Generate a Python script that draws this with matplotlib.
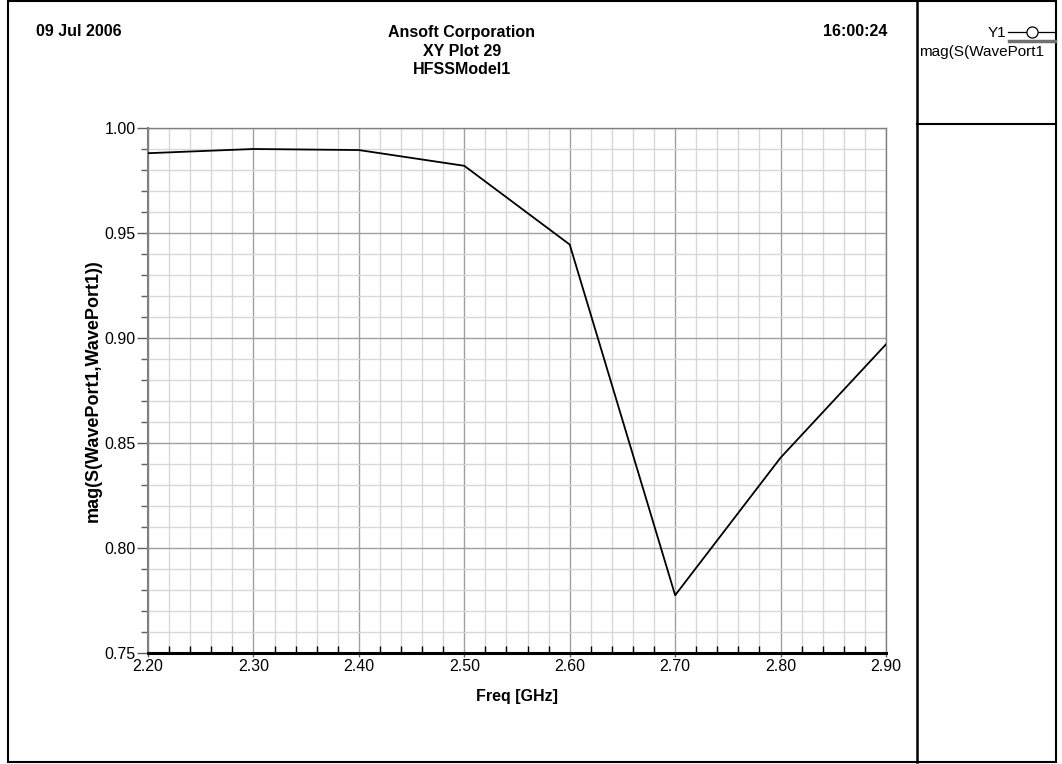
import matplotlib.pyplot as plt
from matplotlib.lines import Line2D
from matplotlib.patches import Rectangle
from matplotlib.ticker import MultipleLocator, FormatStrFormatter

plt.rcParams['font.family'] = ['Liberation Sans', 'DejaVu Sans']

# S11 magnitude vs frequency
freq_ghz = [2.20, 2.30, 2.40, 2.50, 2.60, 2.70, 2.80, 2.90]
mag_s11 = [0.988, 0.990, 0.9895, 0.982, 0.9445, 0.7775, 0.843, 0.897]

x_ticks = [2.20, 2.30, 2.40, 2.50, 2.60, 2.70, 2.80, 2.90]
y_ticks = [0.75, 0.80, 0.85, 0.90, 0.95, 1.00]

W, H = 1062, 764
fig = plt.figure(figsize=(W / 100, H / 100), dpi=100)


def fx(px):
    return px / W


def fy(py):
    return 1 - py / H


# outer frame and legend panel
fig.add_artist(Rectangle((fx(7.5), fy(762)), fx(1055.5) - fx(7.5), fy(1) - fy(762),
                         transform=fig.transFigure, fill=False, ec='black', lw=1.5))
fig.add_artist(Line2D([fx(916.5), fx(916.5)], [fy(1), fy(762)], transform=fig.transFigure,
                      color='black', lw=1.8))
fig.add_artist(Line2D([fx(916.5), fx(1055.5)], [fy(124), fy(124)], transform=fig.transFigure,
                      color='black', lw=1.5))

# header
hdr = dict(fontsize=11.5, fontweight='bold', va='center')
fig.text(fx(36), fy(32), '09 Jul 2006', ha='left', **hdr)
fig.text(fx(887), fy(32), '16:00:24', ha='right', **hdr)
fig.text(fx(462), fy(32), 'Ansoft Corporation', ha='center', **hdr)
fig.text(fx(462), fy(51), 'XY Plot 29', ha='center', **hdr)
fig.text(fx(462), fy(70), 'HFSSModel1', ha='center', **hdr)

# legend (label is cut short by the panel edge in the original)
fig.text(fx(1006), fy(33), 'Y1', ha='right', va='center', fontsize=11)
fig.add_artist(Line2D([fx(1008), fx(1055)], [fy(32), fy(32)], transform=fig.transFigure,
                      color='black', lw=0.9))
fig.add_artist(Line2D([fx(1032)], [fy(32)], transform=fig.transFigure, marker='o',
                      ms=8, mfc='white', mec='black', mew=0.9, lw=0))
fig.add_artist(Line2D([fx(1009), fx(1055)], [fy(41), fy(41)], transform=fig.transFigure,
                      color='#707070', lw=2.5))
fig.text(fx(919), fy(52), 'mag(S(WavePort1', ha='left', va='center', fontsize=11)

ax = fig.add_axes([fx(148), fy(653), fx(886) - fx(148), fy(128) - fy(653)])
ax.plot(freq_ghz, mag_s11, color='black', lw=1.3, zorder=3)

ax.set_xlim(2.20, 2.90)
ax.set_ylim(0.75, 1.00)
ax.set_xticks(x_ticks)
ax.set_yticks(y_ticks)
ax.xaxis.set_minor_locator(MultipleLocator(0.02))
ax.yaxis.set_minor_locator(MultipleLocator(0.01))
ax.xaxis.set_major_formatter(FormatStrFormatter('%.2f'))
ax.yaxis.set_major_formatter(FormatStrFormatter('%.2f'))

ax.grid(which='major', color='#a0a0a0', lw=1.0)
ax.grid(which='minor', color='#d8d8d8', lw=1.0)
ax.set_axisbelow(True)

ax.tick_params(axis='y', which='major', direction='out', length=8, width=1, color='#606060',
               labelsize=11.5, pad=1)
ax.tick_params(axis='y', which='minor', direction='out', length=5, width=1, color='#606060')
ax.tick_params(axis='x', which='major', direction='out', length=3, width=1, color='#606060',
               labelsize=11.5, pad=1)
ax.tick_params(axis='x', which='minor', direction='in', length=5, width=1, color='black')

for side in ['top', 'right']:
    ax.spines[side].set_color('#808080')
    ax.spines[side].set_linewidth(1.0)
ax.spines['left'].set_color('#808080')
ax.spines['left'].set_linewidth(1.5)
ax.spines['bottom'].set_color('black')
ax.spines['bottom'].set_linewidth(2.2)

ax.set_xlabel('Freq [GHz]', fontsize=11.5, fontweight='bold', labelpad=11)
ax.set_ylabel('mag(S(WavePort1,WavePort1))', fontsize=13, fontweight='bold', labelpad=2)

fig.savefig('out.png', dpi=100)
